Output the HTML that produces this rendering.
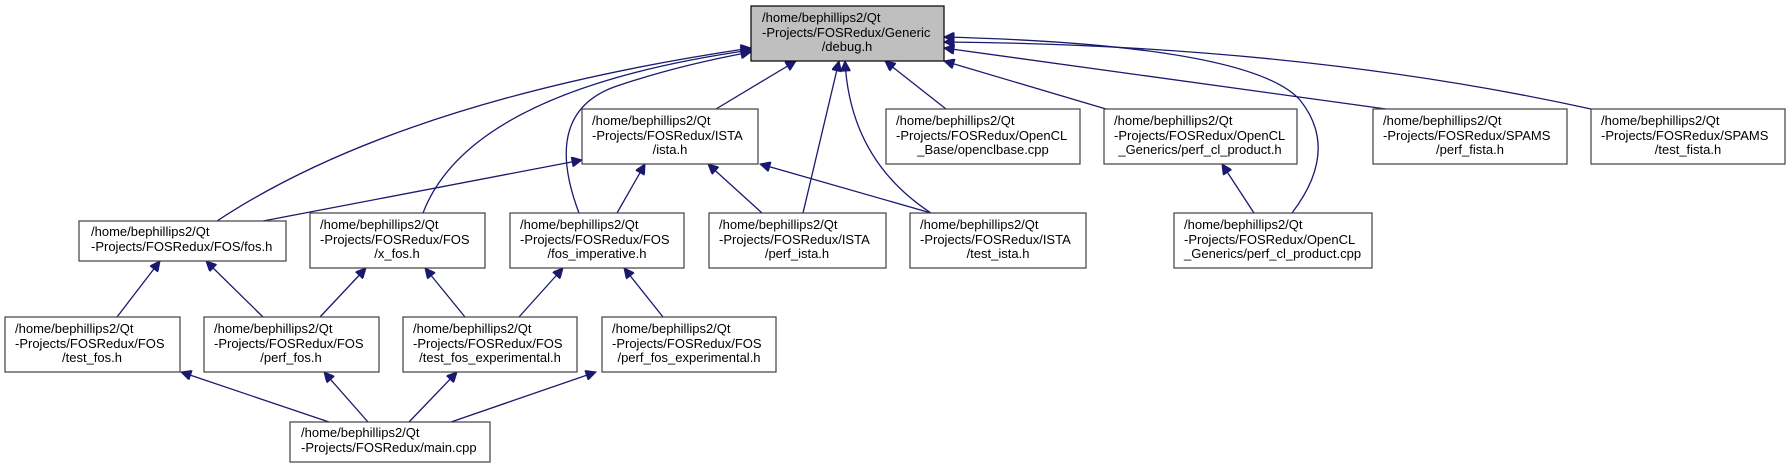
<!DOCTYPE html>
<html><head><meta charset="utf-8"><style>
html,body{margin:0;padding:0;background:#fff;width:1791px;height:468px;overflow:hidden}
svg text{font-family:"Liberation Sans",sans-serif;font-size:13px;fill:#000}
.b{fill:#fff;stroke:#404040;stroke-width:1.2}
.e{fill:none;stroke:#191970;stroke-width:1.3}
</style></head><body>
<svg width="1791" height="468" viewBox="0 0 1791 468" xmlns="http://www.w3.org/2000/svg">
<defs><marker id="a" viewBox="0 0 10 10" refX="10" refY="5" markerWidth="14" markerHeight="10" markerUnits="userSpaceOnUse" orient="auto"><path d="M0,0 L10,5 L0,10 z" fill="#191970" stroke="#191970"/></marker></defs>

<!-- edges -->
<g class="e">
<path d="M217,221 Q400,100 751,48" marker-end="url(#a)"/>
<path d="M423,213 Q470,90 751,50" marker-end="url(#a)"/>
<path d="M579,213 Q540,110 620,85 Q680,65 751,52" marker-end="url(#a)"/>
<path d="M716,109 L796,61" marker-end="url(#a)"/>
<path d="M803,213 L839,61" marker-end="url(#a)"/>
<path d="M931,213 Q850,160 845,61" marker-end="url(#a)"/>
<path d="M946,109 L885,61" marker-end="url(#a)"/>
<path d="M1106,109 L944,61" marker-end="url(#a)"/>
<path d="M1292,213 Q1340,150 1300,100 Q1250,45 944,37" marker-end="url(#a)"/>
<path d="M1386,109 L944,48" marker-end="url(#a)"/>
<path d="M1591,109 Q1300,45 944,42" marker-end="url(#a)"/>
<path d="M263,221 L582,160" marker-end="url(#a)"/>
<path d="M617,213 L645,164" marker-end="url(#a)"/>
<path d="M762,213 L708,164" marker-end="url(#a)"/>
<path d="M931,213 L760,164" marker-end="url(#a)"/>
<path d="M1254,213 L1222,164" marker-end="url(#a)"/>
<path d="M117,317 L160,261" marker-end="url(#a)"/>
<path d="M263,317 L206,261" marker-end="url(#a)"/>
<path d="M320,317 L366,268" marker-end="url(#a)"/>
<path d="M465,317 L425,268" marker-end="url(#a)"/>
<path d="M519,317 L563,268" marker-end="url(#a)"/>
<path d="M663,317 L624,268" marker-end="url(#a)"/>
<path d="M329,422 L181,372" marker-end="url(#a)"/>
<path d="M368,422 L324,372" marker-end="url(#a)"/>
<path d="M409,422 L457,372" marker-end="url(#a)"/>
<path d="M451,422 L596,372" marker-end="url(#a)"/>
</g>

<!-- nodes -->
<rect x="751" y="6" width="193" height="55" style="fill:#bfbfbf;stroke:#000;stroke-width:1.2"/>
<text x="762" y="22">/home/bephillips2/Qt</text><text x="762" y="37">-Projects/FOSRedux/Generic</text><text x="847" y="51" text-anchor="middle">/debug.h</text>

<rect class="b" x="582" y="109" width="176" height="55"/>
<text x="592" y="125">/home/bephillips2/Qt</text><text x="592" y="140">-Projects/FOSRedux/ISTA</text><text x="670" y="154" text-anchor="middle">/ista.h</text>

<rect class="b" x="886" y="109" width="194" height="55"/>
<text x="896" y="125">/home/bephillips2/Qt</text><text x="896" y="140">-Projects/FOSRedux/OpenCL</text><text x="983" y="154" text-anchor="middle">_Base/openclbase.cpp</text>

<rect class="b" x="1104" y="109" width="193" height="55"/>
<text x="1114" y="125">/home/bephillips2/Qt</text><text x="1114" y="140">-Projects/FOSRedux/OpenCL</text><text x="1200" y="154" text-anchor="middle">_Generics/perf_cl_product.h</text>

<rect class="b" x="1373" y="109" width="194" height="55"/>
<text x="1383" y="125">/home/bephillips2/Qt</text><text x="1383" y="140">-Projects/FOSRedux/SPAMS</text><text x="1470" y="154" text-anchor="middle">/perf_fista.h</text>

<rect class="b" x="1591" y="109" width="194" height="55"/>
<text x="1601" y="125">/home/bephillips2/Qt</text><text x="1601" y="140">-Projects/FOSRedux/SPAMS</text><text x="1688" y="154" text-anchor="middle">/test_fista.h</text>

<rect class="b" x="79" y="221" width="207" height="40"/>
<text x="91" y="236">/home/bephillips2/Qt</text><text x="91" y="251">-Projects/FOSRedux/FOS/fos.h</text>

<rect class="b" x="310" y="213" width="175" height="55"/>
<text x="320" y="229">/home/bephillips2/Qt</text><text x="320" y="244">-Projects/FOSRedux/FOS</text><text x="397" y="258" text-anchor="middle">/x_fos.h</text>

<rect class="b" x="510" y="213" width="174" height="55"/>
<text x="520" y="229">/home/bephillips2/Qt</text><text x="520" y="244">-Projects/FOSRedux/FOS</text><text x="597" y="258" text-anchor="middle">/fos_imperative.h</text>

<rect class="b" x="709" y="213" width="177" height="55"/>
<text x="719" y="229">/home/bephillips2/Qt</text><text x="719" y="244">-Projects/FOSRedux/ISTA</text><text x="797" y="258" text-anchor="middle">/perf_ista.h</text>

<rect class="b" x="910" y="213" width="176" height="55"/>
<text x="920" y="229">/home/bephillips2/Qt</text><text x="920" y="244">-Projects/FOSRedux/ISTA</text><text x="998" y="258" text-anchor="middle">/test_ista.h</text>

<rect class="b" x="1174" y="213" width="198" height="55"/>
<text x="1184" y="229">/home/bephillips2/Qt</text><text x="1184" y="244">-Projects/FOSRedux/OpenCL</text><text x="1184" y="258">_Generics/perf_cl_product.cpp</text>

<rect class="b" x="5" y="317" width="175" height="55"/>
<text x="15" y="333">/home/bephillips2/Qt</text><text x="15" y="348">-Projects/FOSRedux/FOS</text><text x="92" y="362" text-anchor="middle">/test_fos.h</text>

<rect class="b" x="204" y="317" width="175" height="55"/>
<text x="214" y="333">/home/bephillips2/Qt</text><text x="214" y="348">-Projects/FOSRedux/FOS</text><text x="291" y="362" text-anchor="middle">/perf_fos.h</text>

<rect class="b" x="403" y="317" width="174" height="55"/>
<text x="413" y="333">/home/bephillips2/Qt</text><text x="413" y="348">-Projects/FOSRedux/FOS</text><text x="490" y="362" text-anchor="middle">/test_fos_experimental.h</text>

<rect class="b" x="602" y="317" width="174" height="55"/>
<text x="612" y="333">/home/bephillips2/Qt</text><text x="612" y="348">-Projects/FOSRedux/FOS</text><text x="689" y="362" text-anchor="middle">/perf_fos_experimental.h</text>

<rect class="b" x="290" y="422" width="200" height="40"/>
<text x="301" y="437">/home/bephillips2/Qt</text><text x="301" y="452">-Projects/FOSRedux/main.cpp</text>
</svg>
</body></html>
